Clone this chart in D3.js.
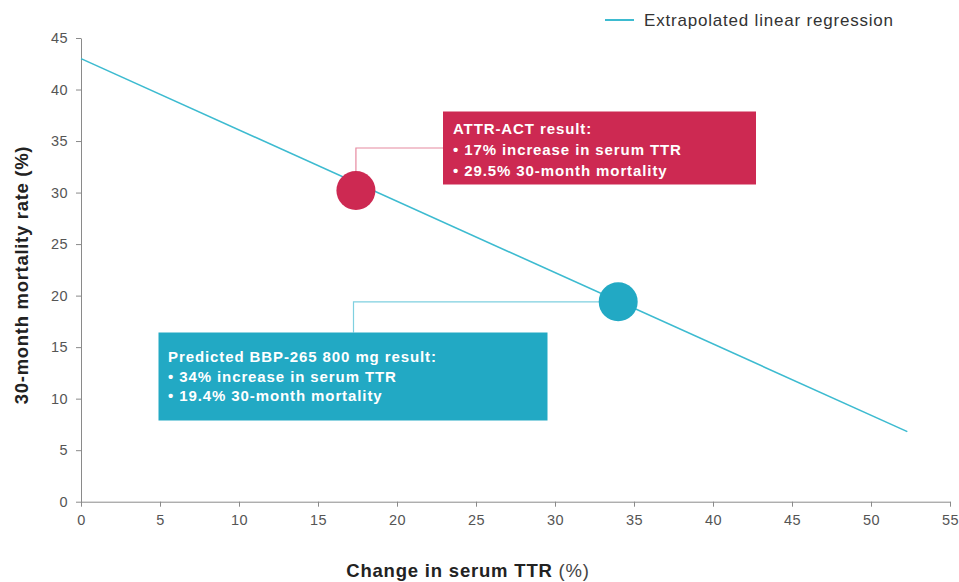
<!DOCTYPE html>
<html>
<head>
<meta charset="utf-8">
<script src="https://cdn.jsdelivr.net/npm/d3@7"></script>
<style>
  body { margin: 0; background: #fff; }
  svg { font-family: "Liberation Sans", Arial, sans-serif; }
  .axis text { fill: #555; font-size: 14.5px; letter-spacing: 0.4px; }
  .axis path, .axis line { stroke: #8a8a8a; }
</style>
</head>
<body>
<div id="chart"></div>
<script>
// data
var xTicks = [0, 5, 10, 15, 20, 25, 30, 35, 40, 45, 50, 55];
var yTicks = [0, 5, 10, 15, 20, 25, 30, 35, 40, 45];
var regX = [0, 52.3];
var regY = [43.0, 6.8];
var pointNames = ["ATTR-ACT", "BBP-265"];
var pointX = [17.4, 34.0];
var pointY = [30.2, 19.4];
var pointLabels = [
  ["ATTR-ACT result:", "\u2022 17% increase in serum TTR", "\u2022 29.5% 30-month mortality"],
  ["Predicted BBP-265 800 mg result:", "\u2022 34% increase in serum TTR", "\u2022 19.4% 30-month mortality"]
];

var W = 959, H = 582;
var red = "#cd2952", blue = "#22a9c4", lineCol = "#3dbbd0";

var svg = d3.select("#chart").append("svg")
  .attr("width", W).attr("height", H);

var x = d3.scaleLinear().domain([0, 55]).range([81, 950]);
var y = d3.scaleLinear().domain([0, 45]).range([501.7, 38]);

svg.append("g")
  .attr("class", "axis")
  .attr("transform", "translate(0," + y(0) + ")")
  .call(d3.axisBottom(x).tickValues(xTicks).tickSize(5).tickSizeOuter(0).tickPadding(8));

svg.append("g")
  .attr("class", "axis")
  .attr("transform", "translate(" + x(0) + ",0)")
  .call(d3.axisLeft(y).tickValues(yTicks).tickSize(5).tickSizeOuter(0).tickPadding(8));

// regression line
var line = d3.line().x(function(d) { return x(d[0]); }).y(function(d) { return y(d[1]); });
svg.append("path")
  .datum(d3.zip(regX, regY))
  .attr("d", line)
  .attr("fill", "none")
  .attr("stroke", lineCol)
  .attr("stroke-width", 1.6);

// ATTR-ACT callout
var p0 = [x(pointX[0]), y(pointY[0])];
var box0 = { x: 443, y: 111.5, w: 313, h: 73 };
svg.append("path")
  .attr("d", "M" + p0[0] + "," + p0[1] + "V" + 148 + "H" + box0.x)
  .attr("fill", "none").attr("stroke", "#e68aa0").attr("stroke-width", 1.2);
svg.append("rect")
  .attr("x", box0.x).attr("y", box0.y).attr("width", box0.w).attr("height", box0.h)
  .attr("fill", red);

// BBP-265 callout
var p1 = [x(pointX[1]), y(pointY[1])];
var box1 = { x: 158.5, y: 332.5, w: 389, h: 88 };
svg.append("path")
  .attr("d", "M" + p1[0] + "," + p1[1] + "H" + 353.5 + "V" + box1.y)
  .attr("fill", "none").attr("stroke", "#7fd0e0").attr("stroke-width", 1.2);
svg.append("rect")
  .attr("x", box1.x).attr("y", box1.y).attr("width", box1.w).attr("height", box1.h)
  .attr("fill", blue);

// points
svg.selectAll(".pt")
  .data(d3.range(pointX.length))
  .enter().append("circle")
    .attr("class", "pt")
    .attr("cx", function(i) { return x(pointX[i]); })
    .attr("cy", function(i) { return y(pointY[i]); })
    .attr("r", 19.5)
    .attr("fill", function(i) { return i === 0 ? red : blue; });

function labelText(lines, tx, ty, gap) {
  var t = svg.append("text")
    .attr("fill", "#fff")
    .attr("font-size", 15)
    .attr("letter-spacing", 0.9)
    .attr("font-weight", "bold");
  lines.forEach(function(s, i) {
    t.append("tspan").attr("x", tx).attr("y", ty + i * gap).text(s);
  });
}
labelText(pointLabels[0], 453, 133.5, 21);
labelText(pointLabels[1], 168, 362, 19.5);

// legend
svg.append("line")
  .attr("x1", 605).attr("x2", 634).attr("y1", 20).attr("y2", 20)
  .attr("stroke", lineCol).attr("stroke-width", 2);
svg.append("text")
  .attr("x", 644).attr("y", 26)
  .attr("font-size", 17).attr("letter-spacing", 0.8).attr("fill", "#333")
  .text("Extrapolated linear regression");

// axis titles
var xt = svg.append("text")
  .attr("x", 468).attr("y", 577)
  .attr("text-anchor", "middle")
  .attr("font-size", 18.5).attr("letter-spacing", 0.8).attr("fill", "#222");
xt.append("tspan").attr("font-weight", "bold").text("Change in serum TTR ");
xt.append("tspan").attr("fill", "#444").text("(%)");

svg.append("text")
  .attr("transform", "translate(28,275) rotate(-90)")
  .attr("text-anchor", "middle")
  .attr("font-size", 18.5).attr("letter-spacing", 0.7).attr("font-weight", "bold").attr("fill", "#222")
  .text("30-month mortality rate (%)");
</script>
</body>
</html>
